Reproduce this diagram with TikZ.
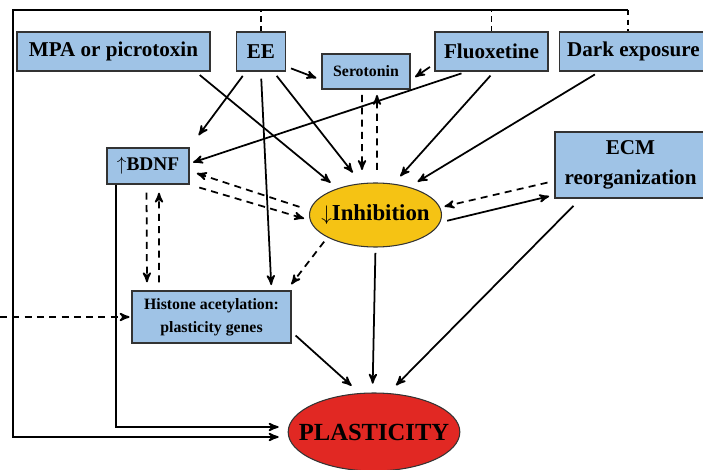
\documentclass[tikz,border=0pt]{standalone}
\usepackage{fontspec}
\setmainfont{Liberation Serif}
\usetikzlibrary{arrows,positioning,shapes}
\definecolor{boxblue}{HTML}{9FC3E6}
\definecolor{inhyellow}{HTML}{F5C314}
\definecolor{plasred}{HTML}{E12823}
\tikzset{
    %Define standard arrow tip
    >=stealth',
    %Define style for boxes
    factor/.style={
	rectangle,
	draw=black!80, line width=0.8pt,
	minimum height=0.78cm,
	font=\bfseries\fontsize{12}{13}\selectfont,
	align=center,
	inner sep=1pt,
	fill=boxblue
    },
    oval/.style={
	ellipse,
	draw=black!80, line width=0.6pt,
	inner ysep=0pt,
	text centered
    },
    % Define arrow styles
    pil/.style={
	->,
	line width=1pt,
	shorten >=5pt},
    dpil/.style={
	pil,
	dash pattern=on 4pt off 3pt},
    dline/.style={
	line width=1pt,
	dash pattern=on 3pt off 2.5pt},
}
\begin{document}
\begin{tikzpicture}
\fill[white] (0,0) rectangle (14.06,9.38);
\useasboundingbox (0,0) rectangle (14.06,9.38);
%nodes
\node[factor, minimum width=3.86cm](mpa) at (2.27,8.35){MPA or picrotoxin};
\node[factor, minimum width=0.98cm, right=0.5cm of mpa](ee){EE};
\node[factor, minimum width=1.76cm, minimum height=0.70cm,
  font=\bfseries\fontsize{9}{10}\selectfont](sero) at (7.32,7.95){Serotonin};
\node[factor, minimum width=2.26cm](fluox) at (9.83,8.35){Fluoxetine};
\node[factor, minimum width=2.96cm, right=0.2cm of fluox](dark){Dark exposure};
\node[factor, minimum width=1.64cm, minimum height=0.72cm,
  font=\bfseries\fontsize{11}{12}\selectfont](bdnf) at (2.96,6.06){$\uparrow$BDNF};
\node[oval, fill=inhyellow, inner xsep=-0.17cm, minimum width=2.64cm, minimum height=1.28cm,
  font=\bfseries\fontsize{13}{14}\selectfont](inh) at (7.51,5.08){$\downarrow$Inhibition};
\node[factor, minimum width=3.02cm, minimum height=1.32cm,
  font=\bfseries\fontsize{12}{17}\selectfont](ecm) at (12.61,6.08){ECM\\reorganization};
\node[factor, minimum width=3.18cm, minimum height=1.04cm,
  font=\bfseries\fontsize{9}{13}\selectfont](hist) at (4.23,3.04){Histone acetylation:\\plasticity genes};
\node[oval, fill=plasred, inner xsep=-0.29cm, minimum width=3.32cm, minimum height=1.56cm,
  font=\bfseries\fontsize{14}{15}\selectfont](plas) at (7.48,0.74){PLASTICITY};
\coordinate (tl) at (0.26,9.18);
\coordinate (tr) at (12.56,9.18);
\coordinate (lin) at (0,3.04);
%frame lines
\draw[pil, shorten >=0.18cm] (tr) -- (tl) |- ([yshift=-0.1cm]plas.west);
\draw[pil, shorten >=0.18cm] ([xshift=-0.64cm]bdnf.south) |- ([yshift=0.1cm]plas.west);
\draw[dline] (ee.north) -- (ee.north |- tl);
\draw[dline] (fluox.north) -- (fluox.north |- tl);
\draw[dline] (tr) -- (tr |- dark.north);
%solid arrows
\path[pil]
([xshift=-0.3cm]mpa.south east) edge[shorten <=3pt] (inh.145)
([xshift=-0.3cm]ee.south) edge[shorten <=3pt, shorten >=0.3cm] (bdnf.north east)
(ee.south) edge[shorten <=4pt, shorten >=3pt] ([xshift=1.2cm]hist.north)
([xshift=0.25cm]ee.south) edge[shorten <=3pt, shorten >=0.25cm] ([xshift=-0.3cm]inh.north)
([yshift=-0.3cm]ee.east) edge[shorten <=3pt, shorten >=3pt] ([yshift=-0.17cm]sero.west)
([yshift=-0.25cm]fluox.west) edge[shorten <=3pt, shorten >=3pt] ([yshift=-0.17cm]sero.east)
([xshift=-0.5cm]fluox.south) edge[shorten <=3pt, shorten >=2pt] ([yshift=0.05cm]bdnf.east)
([xshift=0.05cm]fluox.south) edge[shorten <=3pt, shorten >=0.2cm] (inh.60)
([xshift=-0.68cm]dark.south) edge[shorten <=3pt, shorten >=0.2cm] (inh.40)
([yshift=-0.14cm]inh.east) edge[shorten <=3pt, shorten >=3pt] ([yshift=-0.6cm]ecm.west)
(inh.south) edge[shorten <=3pt] ([xshift=-0.03cm]plas.north)
([yshift=-0.3cm]hist.east) edge[shorten <=3pt, shorten >=0.2cm] ([xshift=-0.3cm]plas.north)
([xshift=-1cm]ecm.south) edge[shorten <=0.2cm, shorten >=0.2cm] ([xshift=0.3cm]plas.north);
%dashed arrows
\path[dpil]
([xshift=-0.08cm]sero.south) edge[shorten <=3pt, shorten >=0.25cm] ([xshift=-0.27cm]inh.north)
([xshift=0.03cm]inh.north) edge[shorten <=0.25cm, shorten >=3pt] ([xshift=0.22cm]sero.south)
([yshift=0.1cm]inh.west) edge[shorten <=0.2cm, shorten >=0.15cm] ([yshift=-0.1cm]bdnf.east)
(bdnf.south east) edge[shorten <=0.2cm, shorten >=0.1cm] ([yshift=-0.1cm]inh.west)
([xshift=-0.03cm]bdnf.south) edge[shorten <=0.16cm, shorten >=0.16cm] ([xshift=-1.29cm]hist.north)
([xshift=-1.05cm]hist.north) edge[shorten <=0.16cm, shorten >=0.16cm] ([xshift=0.22cm]bdnf.south)
(inh.205) edge[shorten <=3pt, shorten >=0.15cm] ([xshift=-0.1cm]hist.north east)
([yshift=-0.32cm]ecm.west) edge[shorten <=0.14cm, shorten >=0.05cm] ([yshift=0.16cm]inh.east)
(lin) edge[shorten >=1pt] (hist.west);
\end{tikzpicture}
\end{document}
